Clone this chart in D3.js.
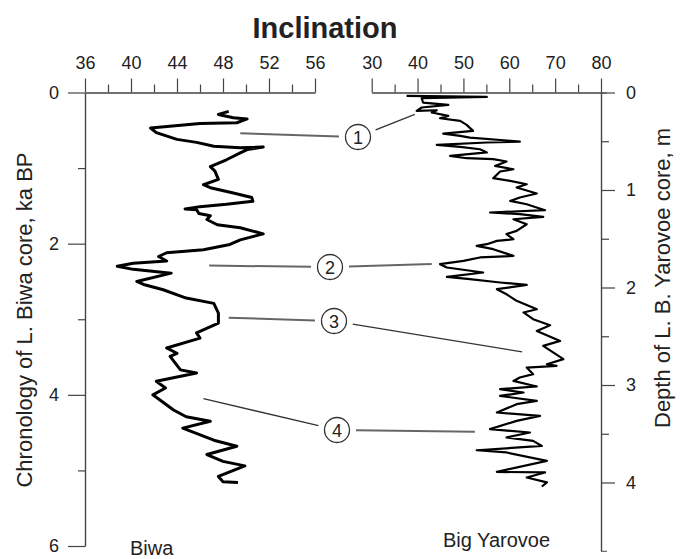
<!DOCTYPE html>
<html>
<head>
<meta charset="utf-8">
<script src="https://cdn.jsdelivr.net/npm/d3@7"></script>
<style>
body { margin: 0; background: #fff; }
svg text { font-family: "Liberation Sans", Arial, sans-serif; fill: #222; }
.axis path, .axis line { stroke: #444; stroke-width: 1.2; }
</style>
</head>
<body>
<script>
(function(){

//Lake Biwa record: age (ka BP) and inclination (deg)
var biwaAge = [0.25,0.29,0.335,0.35,0.40,0.41,0.47,0.53,0.62,0.66,0.71,0.73,0.72,0.755,0.80,0.89,0.98,1.04,1.15,1.22,1.26,1.33,1.39,1.44,1.48,1.51,1.54,1.55,1.60,1.63,1.68,1.75,1.79,1.87,1.95,2.01,2.08,2.12,2.17,2.23,2.26,2.30,2.34,2.39,2.50,2.54,2.61,2.72,2.79,2.92,3.05,3.18,3.25,3.38,3.45,3.49,3.67,3.71,3.82,3.91,4.00,4.20,4.29,4.35,4.44,4.60,4.68,4.79,4.88,4.94,5.08,5.15,5.16];
var biwaIncl = [48.5,47.6,48.9,50.1,49.2,46.0,41.7,42.2,44.0,45.7,47.2,49.5,51.5,50.1,49.5,48.3,46.9,47.3,47.6,46.3,46.9,48.9,50.5,50.6,48.3,46.0,44.7,45.7,45.9,46.9,46.6,47.5,49.5,51.5,49.5,48.6,46.3,43.1,42.4,43.1,40.2,38.8,40.2,43.5,40.5,41.1,42.8,44.8,47.2,47.6,47.6,45.7,46.0,43.1,44.0,43.4,44.3,45.7,42.2,43.0,41.9,43.7,44.8,46.9,44.5,47.2,49.2,46.6,48.0,49.9,47.6,48.0,49.3];

//Big Yarovoe record: depth (m) and inclination (deg)
var yarDepth = [0.035,0.045,0.058,0.103,0.127,0.154,0.189,0.182,0.205,0.24,0.264,0.291,0.332,0.394,0.421,0.445,0.462,0.503,0.513,0.537,0.558,0.582,0.615,0.65,0.674,0.684,0.708,0.753,0.787,0.81,0.879,0.907,0.941,0.974,1.036,1.077,1.112,1.146,1.207,1.231,1.248,1.276,1.30,1.351,1.419,1.453,1.505,1.522,1.556,1.573,1.607,1.676,1.692,1.727,1.761,1.795,1.846,1.891,1.915,1.949,1.973,2.017,2.069,2.137,2.223,2.256,2.325,2.387,2.445,2.548,2.599,2.735,2.787,2.804,2.821,2.889,2.923,2.958,3.015,3.043,3.077,3.112,3.163,3.197,3.282,3.317,3.368,3.453,3.487,3.538,3.573,3.625,3.669,3.692,3.778,3.891,3.897,3.949,3.999,4.041];
var yarIncl = [37.6,55.1,40.9,41.2,46.7,40.9,39.8,44.2,43.1,46.7,44.9,49.3,50.7,52.1,45.6,49.3,51.4,62.3,55.1,44.2,49.3,53.6,55.1,47.1,50.7,56.5,59.4,56.9,60.9,58.0,56.5,60.2,63.8,61.6,66.0,62.3,60.2,63.8,67.8,55.8,62.3,67.4,60.9,63.8,61.6,59.4,60.9,57.3,55.1,52.9,56.5,60.9,53.6,50.0,44.9,46.4,54.3,46.4,51.4,58.0,63.8,57.3,59.4,61.6,66.0,63.1,65.2,68.9,66.0,71.1,67.4,71.8,68.2,70.3,63.8,65.2,62.3,60.9,66.0,58.0,63.1,58.0,66.0,61.6,57.3,66.7,61.6,55.8,64.5,59.4,65.2,67.1,52.9,59.4,68.2,57.3,67.8,63.8,68.2,67.1];

//tie points: label, Biwa anchor (incl, ka), Yarovoe anchor (incl, m)
var tieLabels = ["1","2","3","4"];
var tieBiwaIncl = [49.5,46.8,48.5,46.3];
var tieBiwaAge = [0.54,2.29,2.98,4.05];
var tieYarIncl = [39.4,43.1,62.8,52.5];
var tieYarDepth = [0.224,1.76,2.66,3.48];

//tick values
var biwaXMajor = [36,40,44,48,52,56], biwaXMinor = [38,42,46,50,54];
var yarXMajor = [30,40,50,60,70,80], yarXMinor = [35,45,55,65,75];
var ageMajor = [0,2,4,6], ageMinor = [1,3,5];
var depthMajor = [0,1,2,3,4], depthMinor = [0.5,1.5,2.5,3.5];

var width = 680, height = 559;
var top = 92.5;
var fmt = d3.format("d");

var svg = d3.select("body").append("svg")
    .attr("width", width)
    .attr("height", height);

//scales
var xBiwa = d3.scaleLinear().domain([36,56]).range([85,315]);
var yAge = d3.scaleLinear().domain([0,6]).range([top,546]);
var xYar = d3.scaleLinear().domain([30,80]).range([371.7,601]);
var yDepth = d3.scaleLinear().domain([0,4.7]).range([top,top + 97.5*4.7]);

function drawAxis(gen, tx, ty){
    var g = svg.append("g")
        .attr("class","axis")
        .attr("transform","translate(" + tx + "," + ty + ")")
        .call(gen);
    g.selectAll("text")
        .style("font-size","18px")
        .style("font-family","'Liberation Sans', Arial, sans-serif")
        .attr("fill","#222");
    return g;
}

//top axes
drawAxis(d3.axisTop(xBiwa).tickValues(biwaXMinor).tickSize(8).tickSizeOuter(0).tickFormat(""), 0, top);
drawAxis(d3.axisTop(xBiwa).tickValues(biwaXMajor).tickSize(14).tickSizeOuter(0).tickPadding(10).tickFormat(fmt), 0, top);
drawAxis(d3.axisTop(xYar).tickValues(yarXMinor).tickSize(8).tickSizeOuter(0).tickFormat(""), 0, top);
drawAxis(d3.axisTop(xYar).tickValues(yarXMajor).tickSize(14).tickSizeOuter(0).tickPadding(10).tickFormat(fmt), 0, top);

//left axis
drawAxis(d3.axisLeft(yAge).tickValues(ageMinor).tickSize(7).tickSizeOuter(0).tickFormat(""), 85, 0);
drawAxis(d3.axisLeft(yAge).tickValues(ageMajor).tickSize(17).tickSizeOuter(0).tickPadding(9).tickFormat(fmt), 85, 0);

//right axis
drawAxis(d3.axisRight(yDepth).tickValues(depthMinor).tickSize(8).tickSizeOuter(6).tickFormat(""), 601, 0);
drawAxis(d3.axisRight(yDepth).tickValues(depthMajor).tickSize(14).tickSizeOuter(0).tickPadding(11).tickFormat(fmt), 601, 0);

//curves
var biwaLine = d3.line()
    .x(function(d){ return xBiwa(d[1]); })
    .y(function(d){ return yAge(d[0]); });
var yarLine = d3.line()
    .x(function(d){ return xYar(d[1]); })
    .y(function(d){ return yDepth(d[0]); });

svg.append("path")
    .datum(d3.zip(biwaAge, biwaIncl))
    .attr("d", biwaLine)
    .attr("fill","none")
    .attr("stroke","#000")
    .attr("stroke-width",3)
    .attr("stroke-linejoin","round");

svg.append("path")
    .datum(d3.zip(yarDepth, yarIncl))
    .attr("d", yarLine)
    .attr("fill","none")
    .attr("stroke","#000")
    .attr("stroke-width",2.2)
    .attr("stroke-linejoin","round");

//tie point markers sit between the panels
var circX = [358,330,334,337], circY = [137,267,321,430];
var r = 12.5, gap = 6.5;

tieLabels.forEach(function(lab, i){
    var cx = circX[i], cy = circY[i];
    var ends = [
        [xBiwa(tieBiwaIncl[i]), yAge(tieBiwaAge[i])],
        [xYar(tieYarIncl[i]), yDepth(tieYarDepth[i])]
    ];
    ends.forEach(function(p){
        var dx = p[0] - cx, dy = p[1] - cy, len = Math.sqrt(dx*dx + dy*dy);
        var horiz = Math.abs(dy) < 6;
        svg.append("line")
            .attr("x1", cx + dx/len*(r+gap))
            .attr("y1", cy + dy/len*(r+gap))
            .attr("x2", p[0])
            .attr("y2", p[1])
            .attr("stroke", horiz ? "#666" : "#333")
            .attr("stroke-width", horiz ? 2 : 1.3);
    });
    svg.append("circle")
        .attr("cx", cx).attr("cy", cy).attr("r", r)
        .attr("fill","#fff")
        .attr("stroke","#333")
        .attr("stroke-width",1.3);
    svg.append("text")
        .attr("x", cx).attr("y", cy + 6.5)
        .attr("text-anchor","middle")
        .style("font-size","18px")
        .text(lab);
});

//titles and labels
svg.append("text")
    .attr("x", 325).attr("y", 38)
    .attr("text-anchor","middle")
    .style("font-size","29px")
    .style("font-weight","bold")
    .text("Inclination");

svg.append("text")
    .attr("transform","translate(32,320) rotate(-90)")
    .attr("text-anchor","middle")
    .style("font-size","22px")
    .text("Chronology of L. Biwa core, ka BP");

svg.append("text")
    .attr("transform","translate(670,278) rotate(-90)")
    .attr("text-anchor","middle")
    .style("font-size","22px")
    .text("Depth of L. B. Yarovoe core, m");

svg.append("text")
    .attr("x", 130).attr("y", 555)
    .style("font-size","20px")
    .text("Biwa");

svg.append("text")
    .attr("x", 443).attr("y", 547)
    .style("font-size","20px")
    .text("Big Yarovoe");

})();
</script>
</body>
</html>
